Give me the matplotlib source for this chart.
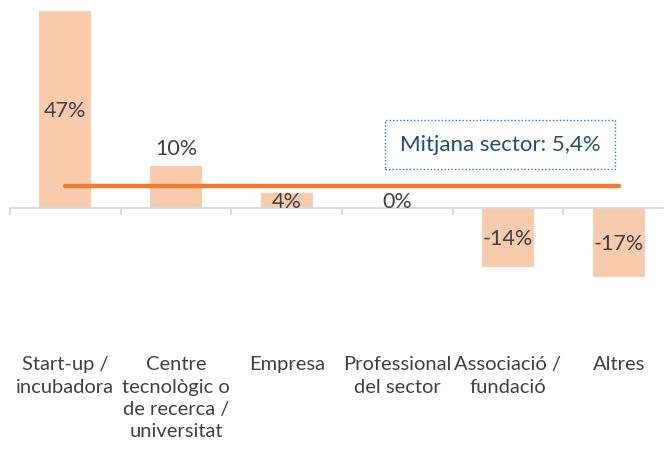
import matplotlib.pyplot as plt

# Data
categories = ["Start-up /\nincubadora", "Centre\ntecnològic o\nde recerca /\nuniversitat",
              "Empresa", "Professional\ndel sector", "Associació /\nfundació", "Altres"]
values = [47.0, 10.0, 3.6, 0.0, -14.0, -16.5]
value_labels = ["47%", "10%", "4%", "0%", "-14%", "-17%"]
sector_mean = 5.4
mean_label = "Mitjana sector: 5,4%"

plt.rcParams['font.family'] = ['Lato', 'DejaVu Sans']

W, H = 664, 452
fig = plt.figure(figsize=(W / 100, H / 100), dpi=100)
# axes spans pixel x 10..674 and y 8..335 (top..bottom)
ax = fig.add_axes([10 / W, (H - 335) / H, 664 / W, 327 / H])
ax.set_xlim(-0.5, 5.5)
ax.set_ylim(-30, 48)

x = list(range(len(categories)))
ax.bar(x, values, width=0.47, color="#F8CBAD", zorder=2)

# mean line
ax.plot([0, 5], [sector_mean, sector_mean], color="#ED7D31", lw=3.2,
        solid_capstyle="round", zorder=3)

# data labels
for i, (v, lab) in enumerate(zip(values, value_labels)):
    if i == 1:
        ax.annotate(lab, (i, v), xytext=(0, 6), textcoords="offset points",
                    ha="center", va="bottom", fontsize=15.5, color="#404040", zorder=4)
    elif v == 0:
        ax.annotate(lab, (i, v), xytext=(0, -2), textcoords="offset points",
                    ha="center", va="bottom", fontsize=15.5, color="#404040", zorder=4)
    else:
        ax.text(i, v / 2, lab, ha="center", va="center", fontsize=15.5,
                color="#404040", zorder=4)

# mean annotation box
ax.text(3.93, 15.3, mean_label, ha="center", va="center", fontsize=16,
        color="#1F4E79", zorder=5,
        bbox=dict(boxstyle="square,pad=0.65", fc="white", ec="#2E75B6",
                  ls=(0, (1, 1.5)), lw=1.0))

# axis styling
for s in ["top", "right", "left"]:
    ax.spines[s].set_visible(False)
ax.spines["bottom"].set_position(("data", 0))
ax.spines["bottom"].set_color("#D9D9D9")
ax.spines["bottom"].set_linewidth(1.3)
ax.set_yticks([])
ax.set_xticks(x)
ax.set_xticklabels(categories, fontsize=14.5, color="#404040", linespacing=1.38)
ax.set_xticks([i - 0.5 for i in range(len(categories) + 1)], minor=True)
ax.tick_params(axis="x", which="major", length=0, pad=106)
ax.tick_params(axis="x", which="minor", length=5, width=1.3, color="#D9D9D9")

fig.savefig("out.png", dpi=100)
